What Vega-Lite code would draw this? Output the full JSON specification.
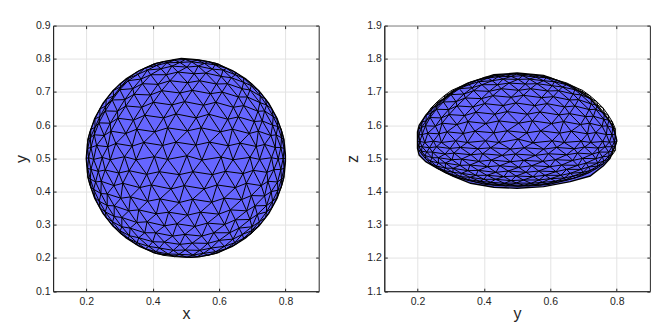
{"$schema":"https://vega.github.io/schema/vega-lite/v6.json","padding":{"left":12.1,"top":19.6,"right":0,"bottom":0},"spacing":23.2,"background":"white","config":{"view":{"stroke":"#262626","strokeWidth":1},"font":"Liberation Sans","axis":{"labelColor":"#262626","titleColor":"#262626","domainColor":"#262626","tickColor":"#262626","gridColor":"#e3e3e3","gridWidth":1,"gridOpacity":1,"labelFontSize":10.5,"titleFontSize":16,"titleFontWeight":"normal","tickSize":-3,"labelPadding":6}},"datasets":{"rimA":[{"x":0.2,"y":0.505,"y2":0.495},{"x":0.203,"y":0.542,"y2":0.458},{"x":0.21,"y":0.577,"y2":0.423},{"x":0.225,"y":0.62,"y2":0.38},{"x":0.25,"y":0.666,"y2":0.334},{"x":0.28,"y":0.704,"y2":0.296},{"x":0.32,"y":0.74,"y2":0.26},{"x":0.36,"y":0.765,"y2":0.235},{"x":0.41,"y":0.786,"y2":0.214},{"x":0.46,"y":0.797,"y2":0.207},{"x":0.486,"y":0.801,"y2":0.204},{"x":0.515,"y":0.799,"y2":0.202},{"x":0.54,"y":0.797,"y2":0.203},{"x":0.59,"y":0.786,"y2":0.214},{"x":0.64,"y":0.765,"y2":0.235},{"x":0.68,"y":0.74,"y2":0.26},{"x":0.72,"y":0.704,"y2":0.296},{"x":0.75,"y":0.666,"y2":0.334},{"x":0.775,"y":0.62,"y2":0.38},{"x":0.79,"y":0.577,"y2":0.423},{"x":0.797,"y":0.542,"y2":0.458},{"x":0.8,"y":0.51,"y2":0.49}],"rimB":[{"x":0.2,"y":1.58,"y2":1.53},{"x":0.205,"y":1.6,"y2":1.51},{"x":0.225,"y":1.63,"y2":1.49},{"x":0.26,"y":1.665,"y2":1.47},{"x":0.31,"y":1.705,"y2":1.445},{"x":0.36,"y":1.73,"y2":1.425},{"x":0.43,"y":1.752,"y2":1.413},{"x":0.5,"y":1.757,"y2":1.41},{"x":0.58,"y":1.75,"y2":1.415},{"x":0.66,"y":1.72,"y2":1.43},{"x":0.72,"y":1.68,"y2":1.447},{"x":0.76,"y":1.635,"y2":1.478},{"x":0.78,"y":1.61,"y2":1.5},{"x":0.79,"y":1.595,"y2":1.525},{"x":0.8,"y":1.555,"y2":1.552}],"mesh":[
{"x":0.402,"y":0.784,"z":1.744,"r":10,"a":-16,"b":4},{"x":0.433,"y":0.792,"z":1.749,"r":10,"a":-14,"b":6},{"x":0.466,"y":0.796,"z":1.752,"r":10,"a":-12,"b":8},{"x":0.498,"y":0.798,"z":1.754,"r":10,"a":-10,"b":10},{"x":0.534,"y":0.796,"z":1.752,"r":10,"a":-8,"b":12},{"x":0.567,"y":0.792,"z":1.749,"r":10,"a":-6,"b":14},{"x":0.598,"y":0.784,"z":1.744,"r":10,"a":-4,"b":16},
{"x":0.35,"y":0.759,"z":1.727,"r":9,"a":-18,"b":0},{"x":0.378,"y":0.773,"z":1.735,"r":9,"a":-16,"b":2},{"x":0.412,"y":0.78,"z":1.742,"r":9,"a":-14,"b":4},{"x":0.443,"y":0.788,"z":1.746,"r":9,"a":-12,"b":6},{"x":0.482,"y":0.789,"z":1.747,"r":9,"a":-10,"b":8},{"x":0.517,"y":0.791,"z":1.749,"r":9,"a":-8,"b":10},{"x":0.556,"y":0.786,"z":1.745,"r":9,"a":-6,"b":12},{"x":0.588,"y":0.782,"z":1.743,"r":9,"a":-4,"b":14},{"x":0.623,"y":0.771,"z":1.735,"r":9,"a":-2,"b":16},{"x":0.65,"y":0.759,"z":1.727,"r":9,"a":0,"b":18},
{"x":0.303,"y":0.727,"z":1.705,"r":8,"a":-20,"b":-4},{"x":0.326,"y":0.741,"z":1.715,"r":8,"a":-18,"b":-2},{"x":0.355,"y":0.753,"z":1.722,"r":8,"a":-16,"b":0},{"x":0.384,"y":0.766,"z":1.731,"r":8,"a":-14,"b":2},{"x":0.425,"y":0.77,"z":1.734,"r":8,"a":-12,"b":4},{"x":0.458,"y":0.778,"z":1.739,"r":8,"a":-10,"b":6},{"x":0.503,"y":0.775,"z":1.738,"r":8,"a":-8,"b":8},{"x":0.537,"y":0.778,"z":1.739,"r":8,"a":-6,"b":10},{"x":0.58,"y":0.769,"z":1.734,"r":8,"a":-4,"b":12},{"x":0.612,"y":0.766,"z":1.731,"r":8,"a":-2,"b":14},{"x":0.649,"y":0.752,"z":1.722,"r":8,"a":0,"b":16},{"x":0.674,"y":0.742,"z":1.715,"r":8,"a":2,"b":18},{"x":0.697,"y":0.727,"z":1.705,"r":8,"a":4,"b":20},
{"x":0.281,"y":0.704,"z":1.689,"r":7,"a":-20,"b":-6},{"x":0.304,"y":0.716,"z":1.698,"r":7,"a":-18,"b":-4},{"x":0.326,"y":0.734,"z":1.71,"r":7,"a":-16,"b":-2},{"x":0.365,"y":0.739,"z":1.713,"r":7,"a":-14,"b":0},{"x":0.394,"y":0.752,"z":1.722,"r":7,"a":-12,"b":2},{"x":0.441,"y":0.752,"z":1.722,"r":7,"a":-10,"b":4},{"x":0.476,"y":0.76,"z":1.727,"r":7,"a":-8,"b":6},{"x":0.525,"y":0.755,"z":1.724,"r":7,"a":-6,"b":8},{"x":0.56,"y":0.757,"z":1.725,"r":7,"a":-4,"b":10},{"x":0.606,"y":0.747,"z":1.719,"r":7,"a":-2,"b":12},{"x":0.637,"y":0.743,"z":1.715,"r":7,"a":0,"b":14},{"x":0.674,"y":0.729,"z":1.707,"r":7,"a":2,"b":16},{"x":0.697,"y":0.719,"z":1.7,"r":7,"a":4,"b":18},{"x":0.719,"y":0.704,"z":1.689,"r":7,"a":6,"b":20},
{"x":0.26,"y":0.678,"z":1.671,"r":6,"a":-20,"b":-8},{"x":0.282,"y":0.688,"z":1.679,"r":6,"a":-18,"b":-6},{"x":0.301,"y":0.707,"z":1.692,"r":6,"a":-16,"b":-4},{"x":0.34,"y":0.71,"z":1.694,"r":6,"a":-14,"b":-2},{"x":0.369,"y":0.725,"z":1.704,"r":6,"a":-12,"b":0},{"x":0.416,"y":0.723,"z":1.702,"r":6,"a":-10,"b":2},{"x":0.452,"y":0.734,"z":1.71,"r":6,"a":-8,"b":4},{"x":0.505,"y":0.728,"z":1.705,"r":6,"a":-6,"b":6},{"x":0.541,"y":0.734,"z":1.71,"r":6,"a":-4,"b":8},{"x":0.592,"y":0.724,"z":1.703,"r":6,"a":-2,"b":10},{"x":0.625,"y":0.725,"z":1.704,"r":6,"a":0,"b":12},{"x":0.669,"y":0.71,"z":1.694,"r":6,"a":2,"b":14},{"x":0.693,"y":0.706,"z":1.691,"r":6,"a":4,"b":16},{"x":0.724,"y":0.688,"z":1.679,"r":6,"a":6,"b":18},{"x":0.74,"y":0.678,"z":1.671,"r":6,"a":8,"b":20},
{"x":0.241,"y":0.649,"z":1.652,"r":5,"a":-20,"b":-10},{"x":0.259,"y":0.658,"z":1.658,"r":5,"a":-18,"b":-8},{"x":0.278,"y":0.676,"z":1.67,"r":5,"a":-16,"b":-6},{"x":0.316,"y":0.677,"z":1.671,"r":5,"a":-14,"b":-4},{"x":0.344,"y":0.693,"z":1.682,"r":5,"a":-12,"b":-2},{"x":0.393,"y":0.691,"z":1.68,"r":5,"a":-10,"b":0},{"x":0.427,"y":0.704,"z":1.689,"r":5,"a":-8,"b":2},{"x":0.482,"y":0.697,"z":1.684,"r":5,"a":-6,"b":4},{"x":0.519,"y":0.705,"z":1.69,"r":5,"a":-4,"b":6},{"x":0.574,"y":0.695,"z":1.683,"r":5,"a":-2,"b":8},{"x":0.609,"y":0.7,"z":1.686,"r":5,"a":0,"b":10},{"x":0.658,"y":0.685,"z":1.676,"r":5,"a":2,"b":12},{"x":0.685,"y":0.685,"z":1.677,"r":5,"a":4,"b":14},{"x":0.723,"y":0.668,"z":1.664,"r":5,"a":6,"b":16},{"x":0.743,"y":0.661,"z":1.66,"r":5,"a":8,"b":18},{"x":0.759,"y":0.649,"z":1.652,"r":5,"a":10,"b":20},
{"x":0.226,"y":0.619,"z":1.631,"r":4,"a":-20,"b":-12},{"x":0.241,"y":0.626,"z":1.636,"r":4,"a":-18,"b":-10},{"x":0.257,"y":0.643,"z":1.648,"r":4,"a":-16,"b":-8},{"x":0.294,"y":0.642,"z":1.647,"r":4,"a":-14,"b":-6},{"x":0.319,"y":0.658,"z":1.658,"r":4,"a":-12,"b":-4},{"x":0.367,"y":0.654,"z":1.655,"r":4,"a":-10,"b":-2},{"x":0.402,"y":0.669,"z":1.665,"r":4,"a":-8,"b":0},{"x":0.458,"y":0.661,"z":1.659,"r":4,"a":-6,"b":2},{"x":0.496,"y":0.671,"z":1.667,"r":4,"a":-4,"b":4},{"x":0.553,"y":0.66,"z":1.659,"r":4,"a":-2,"b":6},{"x":0.59,"y":0.669,"z":1.665,"r":4,"a":0,"b":8},{"x":0.643,"y":0.654,"z":1.655,"r":4,"a":2,"b":10},{"x":0.674,"y":0.659,"z":1.658,"r":4,"a":4,"b":12},{"x":0.717,"y":0.642,"z":1.647,"r":4,"a":6,"b":14},{"x":0.737,"y":0.643,"z":1.648,"r":4,"a":8,"b":16},{"x":0.763,"y":0.626,"z":1.636,"r":4,"a":10,"b":18},{"x":0.774,"y":0.619,"z":1.631,"r":4,"a":12,"b":20},
{"x":0.214,"y":0.588,"z":1.61,"r":3,"a":-20,"b":-14},{"x":0.226,"y":0.593,"z":1.613,"r":3,"a":-18,"b":-12},{"x":0.238,"y":0.607,"z":1.623,"r":3,"a":-16,"b":-10},{"x":0.272,"y":0.606,"z":1.622,"r":3,"a":-14,"b":-8},{"x":0.295,"y":0.621,"z":1.632,"r":3,"a":-12,"b":-6},{"x":0.342,"y":0.615,"z":1.629,"r":3,"a":-10,"b":-4},{"x":0.376,"y":0.63,"z":1.639,"r":3,"a":-8,"b":-2},{"x":0.433,"y":0.622,"z":1.633,"r":3,"a":-6,"b":0},{"x":0.47,"y":0.634,"z":1.641,"r":3,"a":-4,"b":2},{"x":0.531,"y":0.622,"z":1.633,"r":3,"a":-2,"b":4},{"x":0.569,"y":0.633,"z":1.64,"r":3,"a":0,"b":6},{"x":0.626,"y":0.618,"z":1.631,"r":3,"a":2,"b":8},{"x":0.658,"y":0.625,"z":1.635,"r":3,"a":4,"b":10},{"x":0.706,"y":0.611,"z":1.626,"r":3,"a":6,"b":12},{"x":0.73,"y":0.613,"z":1.627,"r":3,"a":8,"b":14},{"x":0.761,"y":0.6,"z":1.618,"r":3,"a":10,"b":16},{"x":0.777,"y":0.596,"z":1.615,"r":3,"a":12,"b":18},{"x":0.787,"y":0.588,"z":1.61,"r":3,"a":14,"b":20},
{"x":0.204,"y":0.557,"z":1.589,"r":2,"a":-20,"b":-16},{"x":0.212,"y":0.562,"z":1.593,"r":2,"a":-18,"b":-14},{"x":0.224,"y":0.571,"z":1.598,"r":2,"a":-16,"b":-12},{"x":0.254,"y":0.569,"z":1.597,"r":2,"a":-14,"b":-10},{"x":0.274,"y":0.582,"z":1.606,"r":2,"a":-12,"b":-8},{"x":0.319,"y":0.575,"z":1.602,"r":2,"a":-10,"b":-6},{"x":0.352,"y":0.588,"z":1.611,"r":2,"a":-8,"b":-4},{"x":0.406,"y":0.58,"z":1.605,"r":2,"a":-6,"b":-2},{"x":0.445,"y":0.592,"z":1.613,"r":2,"a":-4,"b":0},{"x":0.505,"y":0.583,"z":1.606,"r":2,"a":-2,"b":2},{"x":0.546,"y":0.592,"z":1.613,"r":2,"a":0,"b":4},{"x":0.604,"y":0.58,"z":1.605,"r":2,"a":2,"b":6},{"x":0.64,"y":0.588,"z":1.611,"r":2,"a":4,"b":8},{"x":0.691,"y":0.575,"z":1.602,"r":2,"a":6,"b":10},{"x":0.718,"y":0.582,"z":1.606,"r":2,"a":8,"b":12},{"x":0.756,"y":0.569,"z":1.597,"r":2,"a":10,"b":14},{"x":0.772,"y":0.571,"z":1.598,"r":2,"a":12,"b":16},{"x":0.788,"y":0.562,"z":1.593,"r":2,"a":14,"b":18},{"x":0.796,"y":0.557,"z":1.589,"r":2,"a":16,"b":20},
{"x":0.204,"y":0.53,"z":1.571,"r":1,"a":-18,"b":-16},{"x":0.214,"y":0.533,"z":1.572,"r":1,"a":-16,"b":-14},{"x":0.231,"y":0.539,"z":1.576,"r":1,"a":-14,"b":-12},{"x":0.265,"y":0.535,"z":1.574,"r":1,"a":-12,"b":-10},{"x":0.289,"y":0.545,"z":1.58,"r":1,"a":-10,"b":-8},{"x":0.338,"y":0.537,"z":1.575,"r":1,"a":-8,"b":-6},{"x":0.373,"y":0.548,"z":1.582,"r":1,"a":-6,"b":-4},{"x":0.43,"y":0.539,"z":1.577,"r":1,"a":-4,"b":-2},{"x":0.47,"y":0.549,"z":1.583,"r":1,"a":-2,"b":0},{"x":0.53,"y":0.54,"z":1.577,"r":1,"a":0,"b":2},{"x":0.571,"y":0.549,"z":1.583,"r":1,"a":2,"b":4},{"x":0.628,"y":0.538,"z":1.576,"r":1,"a":4,"b":6},{"x":0.663,"y":0.546,"z":1.582,"r":1,"a":6,"b":8},{"x":0.712,"y":0.536,"z":1.574,"r":1,"a":8,"b":10},{"x":0.737,"y":0.542,"z":1.578,"r":1,"a":10,"b":12},{"x":0.769,"y":0.533,"z":1.572,"r":1,"a":12,"b":14},{"x":0.786,"y":0.533,"z":1.572,"r":1,"a":14,"b":16},{"x":0.796,"y":0.53,"z":1.571,"r":1,"a":16,"b":18},
{"x":0.2,"y":0.5,"z":1.55,"r":0,"a":-18,"b":-18},{"x":0.207,"y":0.502,"z":1.551,"r":0,"a":-16,"b":-16},{"x":0.222,"y":0.497,"z":1.548,"r":0,"a":-14,"b":-14},{"x":0.248,"y":0.503,"z":1.552,"r":0,"a":-12,"b":-12},{"x":0.272,"y":0.496,"z":1.548,"r":0,"a":-10,"b":-10},{"x":0.315,"y":0.505,"z":1.553,"r":0,"a":-8,"b":-8},{"x":0.35,"y":0.496,"z":1.548,"r":0,"a":-6,"b":-6},{"x":0.405,"y":0.505,"z":1.553,"r":0,"a":-4,"b":-4},{"x":0.445,"y":0.497,"z":1.548,"r":0,"a":-2,"b":-2},{"x":0.503,"y":0.508,"z":1.558,"r":0,"a":0,"b":0},{"x":0.548,"y":0.495,"z":1.547,"r":0,"a":2,"b":2},{"x":0.606,"y":0.504,"z":1.553,"r":0,"a":4,"b":4},{"x":0.642,"y":0.496,"z":1.548,"r":0,"a":6,"b":6},{"x":0.693,"y":0.503,"z":1.552,"r":0,"a":8,"b":8},{"x":0.722,"y":0.497,"z":1.548,"r":0,"a":10,"b":10},{"x":0.758,"y":0.502,"z":1.551,"r":0,"a":12,"b":12},{"x":0.778,"y":0.498,"z":1.549,"r":0,"a":14,"b":14},{"x":0.793,"y":0.5,"z":1.55,"r":0,"a":16,"b":16},{"x":0.8,"y":0.5,"z":1.55,"r":0,"a":18,"b":18},
{"x":0.204,"y":0.47,"z":1.536,"r":-1,"a":-16,"b":-18},{"x":0.214,"y":0.467,"z":1.535,"r":-1,"a":-14,"b":-16},{"x":0.236,"y":0.461,"z":1.532,"r":-1,"a":-12,"b":-14},{"x":0.257,"y":0.465,"z":1.535,"r":-1,"a":-10,"b":-12},{"x":0.298,"y":0.456,"z":1.53,"r":-1,"a":-8,"b":-10},{"x":0.329,"y":0.463,"z":1.533,"r":-1,"a":-6,"b":-8},{"x":0.382,"y":0.452,"z":1.529,"r":-1,"a":-4,"b":-6},{"x":0.42,"y":0.46,"z":1.532,"r":-1,"a":-2,"b":-4},{"x":0.48,"y":0.451,"z":1.528,"r":-1,"a":0,"b":-2},{"x":0.521,"y":0.46,"z":1.532,"r":-1,"a":2,"b":0},{"x":0.58,"y":0.451,"z":1.528,"r":-1,"a":4,"b":2},{"x":0.619,"y":0.461,"z":1.533,"r":-1,"a":6,"b":4},{"x":0.672,"y":0.454,"z":1.529,"r":-1,"a":8,"b":6},{"x":0.703,"y":0.464,"z":1.534,"r":-1,"a":10,"b":8},{"x":0.744,"y":0.458,"z":1.531,"r":-1,"a":12,"b":10},{"x":0.765,"y":0.466,"z":1.535,"r":-1,"a":14,"b":12},{"x":0.786,"y":0.467,"z":1.535,"r":-1,"a":16,"b":14},{"x":0.796,"y":0.47,"z":1.536,"r":-1,"a":18,"b":16},
{"x":0.204,"y":0.443,"z":1.524,"r":-2,"a":-16,"b":-20},{"x":0.212,"y":0.438,"z":1.522,"r":-2,"a":-14,"b":-18},{"x":0.228,"y":0.429,"z":1.519,"r":-2,"a":-12,"b":-16},{"x":0.245,"y":0.431,"z":1.519,"r":-2,"a":-10,"b":-14},{"x":0.283,"y":0.418,"z":1.513,"r":-2,"a":-8,"b":-12},{"x":0.31,"y":0.425,"z":1.516,"r":-2,"a":-6,"b":-10},{"x":0.361,"y":0.412,"z":1.511,"r":-2,"a":-4,"b":-8},{"x":0.396,"y":0.42,"z":1.514,"r":-2,"a":-2,"b":-6},{"x":0.455,"y":0.408,"z":1.509,"r":-2,"a":0,"b":-4},{"x":0.495,"y":0.418,"z":1.513,"r":-2,"a":2,"b":-2},{"x":0.555,"y":0.408,"z":1.509,"r":-2,"a":4,"b":0},{"x":0.594,"y":0.42,"z":1.514,"r":-2,"a":6,"b":2},{"x":0.649,"y":0.412,"z":1.511,"r":-2,"a":8,"b":4},{"x":0.682,"y":0.425,"z":1.516,"r":-2,"a":10,"b":6},{"x":0.727,"y":0.418,"z":1.513,"r":-2,"a":12,"b":8},{"x":0.747,"y":0.431,"z":1.519,"r":-2,"a":14,"b":10},{"x":0.776,"y":0.429,"z":1.519,"r":-2,"a":16,"b":12},{"x":0.788,"y":0.438,"z":1.522,"r":-2,"a":18,"b":14},{"x":0.796,"y":0.443,"z":1.524,"r":-2,"a":20,"b":16},
{"x":0.214,"y":0.412,"z":1.511,"r":-3,"a":-14,"b":-20},{"x":0.222,"y":0.407,"z":1.509,"r":-3,"a":-12,"b":-18},{"x":0.244,"y":0.394,"z":1.502,"r":-3,"a":-10,"b":-16},{"x":0.263,"y":0.393,"z":1.502,"r":-3,"a":-8,"b":-14},{"x":0.304,"y":0.38,"z":1.496,"r":-3,"a":-6,"b":-12},{"x":0.333,"y":0.384,"z":1.498,"r":-3,"a":-4,"b":-10},{"x":0.385,"y":0.371,"z":1.491,"r":-3,"a":-2,"b":-8},{"x":0.422,"y":0.378,"z":1.495,"r":-3,"a":0,"b":-6},{"x":0.48,"y":0.367,"z":1.49,"r":-3,"a":2,"b":-4},{"x":0.52,"y":0.377,"z":1.494,"r":-3,"a":4,"b":-2},{"x":0.578,"y":0.368,"z":1.491,"r":-3,"a":6,"b":0},{"x":0.615,"y":0.38,"z":1.496,"r":-3,"a":8,"b":2},{"x":0.668,"y":0.376,"z":1.494,"r":-3,"a":10,"b":4},{"x":0.697,"y":0.388,"z":1.5,"r":-3,"a":12,"b":6},{"x":0.737,"y":0.387,"z":1.499,"r":-3,"a":14,"b":8},{"x":0.757,"y":0.4,"z":1.505,"r":-3,"a":16,"b":10},{"x":0.777,"y":0.404,"z":1.507,"r":-3,"a":18,"b":12},{"x":0.787,"y":0.412,"z":1.511,"r":-3,"a":20,"b":14},
{"x":0.226,"y":0.381,"z":1.497,"r":-4,"a":-12,"b":-20},{"x":0.239,"y":0.371,"z":1.492,"r":-4,"a":-10,"b":-18},{"x":0.263,"y":0.358,"z":1.486,"r":-4,"a":-8,"b":-16},{"x":0.284,"y":0.357,"z":1.486,"r":-4,"a":-6,"b":-14},{"x":0.328,"y":0.342,"z":1.479,"r":-4,"a":-4,"b":-12},{"x":0.358,"y":0.345,"z":1.48,"r":-4,"a":-2,"b":-10},{"x":0.411,"y":0.333,"z":1.475,"r":-4,"a":0,"b":-8},{"x":0.448,"y":0.338,"z":1.478,"r":-4,"a":2,"b":-6},{"x":0.505,"y":0.329,"z":1.473,"r":-4,"a":4,"b":-4},{"x":0.544,"y":0.338,"z":1.478,"r":-4,"a":6,"b":-2},{"x":0.599,"y":0.332,"z":1.475,"r":-4,"a":8,"b":0},{"x":0.634,"y":0.345,"z":1.48,"r":-4,"a":10,"b":2},{"x":0.683,"y":0.342,"z":1.479,"r":-4,"a":12,"b":4},{"x":0.708,"y":0.357,"z":1.486,"r":-4,"a":14,"b":6},{"x":0.743,"y":0.358,"z":1.486,"r":-4,"a":16,"b":8},{"x":0.761,"y":0.371,"z":1.492,"r":-4,"a":18,"b":10},{"x":0.774,"y":0.381,"z":1.497,"r":-4,"a":20,"b":12},
{"x":0.241,"y":0.351,"z":1.483,"r":-5,"a":-10,"b":-20},{"x":0.257,"y":0.339,"z":1.477,"r":-5,"a":-8,"b":-18},{"x":0.284,"y":0.325,"z":1.471,"r":-5,"a":-6,"b":-16},{"x":0.307,"y":0.322,"z":1.47,"r":-5,"a":-4,"b":-14},{"x":0.352,"y":0.307,"z":1.463,"r":-5,"a":-2,"b":-12},{"x":0.383,"y":0.309,"z":1.464,"r":-5,"a":0,"b":-10},{"x":0.436,"y":0.297,"z":1.458,"r":-5,"a":2,"b":-8},{"x":0.473,"y":0.303,"z":1.462,"r":-5,"a":4,"b":-6},{"x":0.527,"y":0.295,"z":1.458,"r":-5,"a":6,"b":-4},{"x":0.565,"y":0.305,"z":1.462,"r":-5,"a":8,"b":-2},{"x":0.617,"y":0.301,"z":1.46,"r":-5,"a":10,"b":0},{"x":0.649,"y":0.315,"z":1.467,"r":-5,"a":12,"b":2},{"x":0.693,"y":0.316,"z":1.467,"r":-5,"a":14,"b":4},{"x":0.715,"y":0.331,"z":1.474,"r":-5,"a":16,"b":6},{"x":0.743,"y":0.339,"z":1.477,"r":-5,"a":18,"b":8},{"x":0.759,"y":0.351,"z":1.483,"r":-5,"a":20,"b":10},
{"x":0.26,"y":0.322,"z":1.47,"r":-6,"a":-8,"b":-20},{"x":0.279,"y":0.309,"z":1.464,"r":-6,"a":-6,"b":-18},{"x":0.307,"y":0.294,"z":1.458,"r":-6,"a":-4,"b":-16},{"x":0.332,"y":0.29,"z":1.455,"r":-6,"a":-2,"b":-14},{"x":0.376,"y":0.276,"z":1.449,"r":-6,"a":0,"b":-12},{"x":0.409,"y":0.276,"z":1.449,"r":-6,"a":2,"b":-10},{"x":0.46,"y":0.266,"z":1.445,"r":-6,"a":4,"b":-8},{"x":0.497,"y":0.271,"z":1.447,"r":-6,"a":6,"b":-6},{"x":0.548,"y":0.266,"z":1.445,"r":-6,"a":8,"b":-4},{"x":0.584,"y":0.276,"z":1.449,"r":-6,"a":10,"b":-2},{"x":0.632,"y":0.276,"z":1.449,"r":-6,"a":12,"b":0},{"x":0.66,"y":0.29,"z":1.455,"r":-6,"a":14,"b":2},{"x":0.699,"y":0.294,"z":1.458,"r":-6,"a":16,"b":4},{"x":0.721,"y":0.309,"z":1.464,"r":-6,"a":18,"b":6},{"x":0.74,"y":0.322,"z":1.47,"r":-6,"a":20,"b":8},
{"x":0.281,"y":0.296,"z":1.458,"r":-7,"a":-6,"b":-20},{"x":0.302,"y":0.282,"z":1.452,"r":-7,"a":-4,"b":-18},{"x":0.33,"y":0.267,"z":1.445,"r":-7,"a":-2,"b":-16},{"x":0.358,"y":0.261,"z":1.443,"r":-7,"a":0,"b":-14},{"x":0.4,"y":0.249,"z":1.437,"r":-7,"a":2,"b":-12},{"x":0.435,"y":0.248,"z":1.437,"r":-7,"a":4,"b":-10},{"x":0.482,"y":0.241,"z":1.433,"r":-7,"a":6,"b":-8},{"x":0.519,"y":0.245,"z":1.435,"r":-7,"a":8,"b":-6},{"x":0.566,"y":0.244,"z":1.435,"r":-7,"a":10,"b":-4},{"x":0.6,"y":0.253,"z":1.439,"r":-7,"a":12,"b":-2},{"x":0.642,"y":0.257,"z":1.441,"r":-7,"a":14,"b":0},{"x":0.67,"y":0.271,"z":1.447,"r":-7,"a":16,"b":2},{"x":0.698,"y":0.282,"z":1.452,"r":-7,"a":18,"b":4},{"x":0.719,"y":0.296,"z":1.458,"r":-7,"a":20,"b":6},
{"x":0.303,"y":0.273,"z":1.448,"r":-8,"a":-4,"b":-20},{"x":0.326,"y":0.259,"z":1.441,"r":-8,"a":-2,"b":-18},{"x":0.353,"y":0.246,"z":1.436,"r":-8,"a":0,"b":-16},{"x":0.388,"y":0.235,"z":1.431,"r":-8,"a":2,"b":-14},{"x":0.42,"y":0.23,"z":1.428,"r":-8,"a":4,"b":-12},{"x":0.462,"y":0.223,"z":1.425,"r":-8,"a":6,"b":-10},{"x":0.498,"y":0.224,"z":1.426,"r":-8,"a":8,"b":-8},{"x":0.542,"y":0.223,"z":1.425,"r":-8,"a":10,"b":-6},{"x":0.576,"y":0.23,"z":1.428,"r":-8,"a":12,"b":-4},{"x":0.616,"y":0.235,"z":1.431,"r":-8,"a":14,"b":-2},{"x":0.647,"y":0.246,"z":1.436,"r":-8,"a":16,"b":0},{"x":0.674,"y":0.259,"z":1.441,"r":-8,"a":18,"b":2},{"x":0.697,"y":0.273,"z":1.448,"r":-8,"a":20,"b":4},
{"x":0.35,"y":0.241,"z":1.434,"r":-9,"a":0,"b":-18},{"x":0.378,"y":0.228,"z":1.428,"r":-9,"a":2,"b":-16},{"x":0.41,"y":0.219,"z":1.424,"r":-9,"a":4,"b":-14},{"x":0.447,"y":0.212,"z":1.421,"r":-9,"a":6,"b":-12},{"x":0.479,"y":0.211,"z":1.42,"r":-9,"a":8,"b":-10},{"x":0.521,"y":0.209,"z":1.419,"r":-9,"a":10,"b":-8},{"x":0.553,"y":0.214,"z":1.421,"r":-9,"a":12,"b":-6},{"x":0.59,"y":0.219,"z":1.424,"r":-9,"a":14,"b":-4},{"x":0.622,"y":0.228,"z":1.428,"r":-9,"a":16,"b":-2},{"x":0.65,"y":0.241,"z":1.434,"r":-9,"a":18,"b":0},
{"x":0.402,"y":0.216,"z":1.422,"r":-10,"a":4,"b":-16},{"x":0.433,"y":0.208,"z":1.419,"r":-10,"a":6,"b":-14},{"x":0.466,"y":0.204,"z":1.417,"r":-10,"a":8,"b":-12},{"x":0.503,"y":0.202,"z":1.416,"r":-10,"a":10,"b":-10},{"x":0.534,"y":0.204,"z":1.417,"r":-10,"a":12,"b":-8},{"x":0.567,"y":0.208,"z":1.419,"r":-10,"a":14,"b":-6},{"x":0.598,"y":0.216,"z":1.422,"r":-10,"a":16,"b":-4}
]},"hconcat":[{"width":265.6,"height":265.6,"layer":[{"data":{"name":"rimA"},"mark":{"type":"area","fill":"#6666ff","stroke":"black","strokeWidth":1.2},"encoding":{"x":{"field":"x","type":"quantitative","scale":{"domain":[0.1,0.9]},"title":"x","axis":{"values":[0.2,0.4,0.6,0.8],"grid":true,"format":".1f","labelPadding":8,"titlePadding":-1}},"y":{"field":"y","type":"quantitative","scale":{"domain":[0.1,0.9]},"title":"y","axis":{"values":[0.1,0.2,0.3,0.4,0.5,0.6,0.7,0.8,0.9],"grid":true,"format":".1f","titlePadding":6}},"y2":{"field":"y2"}}},{"data":{"name":"mesh"},"mark":{"type":"line","stroke":"black","strokeWidth":1},"encoding":{"x":{"field":"x","type":"quantitative","scale":{"domain":[0.1,0.9]},"axis":{"orient":"top","values":[0.2,0.4,0.6,0.8],"labels":false,"title":null,"grid":false,"domain":false}},"y":{"field":"y","type":"quantitative","scale":{"domain":[0.1,0.9]},"axis":{"orient":"right","values":[0.1,0.2,0.3,0.4,0.5,0.6,0.7,0.8,0.9],"labels":false,"title":null,"grid":false,"domain":false}},"detail":{"field":"r"},"order":{"field":"x"}}},{"data":{"name":"mesh"},"mark":{"type":"line","stroke":"black","strokeWidth":1},"encoding":{"x":{"field":"x","type":"quantitative","axis":null},"y":{"field":"y","type":"quantitative","axis":null},"detail":{"field":"a"},"order":{"field":"y"}}},{"data":{"name":"mesh"},"mark":{"type":"line","stroke":"black","strokeWidth":1},"encoding":{"x":{"field":"x","type":"quantitative","axis":null},"y":{"field":"y","type":"quantitative","axis":null},"detail":{"field":"b"},"order":{"field":"y"}}}],"resolve":{"axis":{"x":"independent","y":"independent"}}},{"width":265.6,"height":265.6,"layer":[{"data":{"name":"rimB"},"mark":{"type":"area","fill":"#6666ff","stroke":"black","strokeWidth":1.4},"encoding":{"x":{"field":"x","type":"quantitative","scale":{"domain":[0.1,0.9]},"title":"y","axis":{"values":[0.2,0.4,0.6,0.8],"grid":true,"format":".1f","labelPadding":8,"titlePadding":-1}},"y":{"field":"y","type":"quantitative","scale":{"domain":[1.1,1.9]},"title":"z","axis":{"values":[1.1,1.2,1.3,1.4,1.5,1.6,1.7,1.8,1.9],"grid":true,"format":".1f","titlePadding":6}},"y2":{"field":"y2"}}},{"data":{"name":"mesh"},"mark":{"type":"line","stroke":"black","strokeWidth":1},"encoding":{"x":{"field":"x","type":"quantitative","scale":{"domain":[0.1,0.9]},"axis":{"orient":"top","values":[0.2,0.4,0.6,0.8],"labels":false,"title":null,"grid":false,"domain":false}},"y":{"field":"z","type":"quantitative","scale":{"domain":[1.1,1.9]},"axis":{"orient":"right","values":[1.1,1.2,1.3,1.4,1.5,1.6,1.7,1.8,1.9],"labels":false,"title":null,"grid":false,"domain":false}},"detail":{"field":"r"},"order":{"field":"x"}}},{"data":{"name":"mesh"},"mark":{"type":"line","stroke":"black","strokeWidth":1},"encoding":{"x":{"field":"x","type":"quantitative","axis":null},"y":{"field":"z","type":"quantitative","axis":null},"detail":{"field":"a"},"order":{"field":"z"}}},{"data":{"name":"mesh"},"mark":{"type":"line","stroke":"black","strokeWidth":1},"encoding":{"x":{"field":"x","type":"quantitative","axis":null},"y":{"field":"z","type":"quantitative","axis":null},"detail":{"field":"b"},"order":{"field":"z"}}}],"resolve":{"axis":{"x":"independent","y":"independent"}}}]}
